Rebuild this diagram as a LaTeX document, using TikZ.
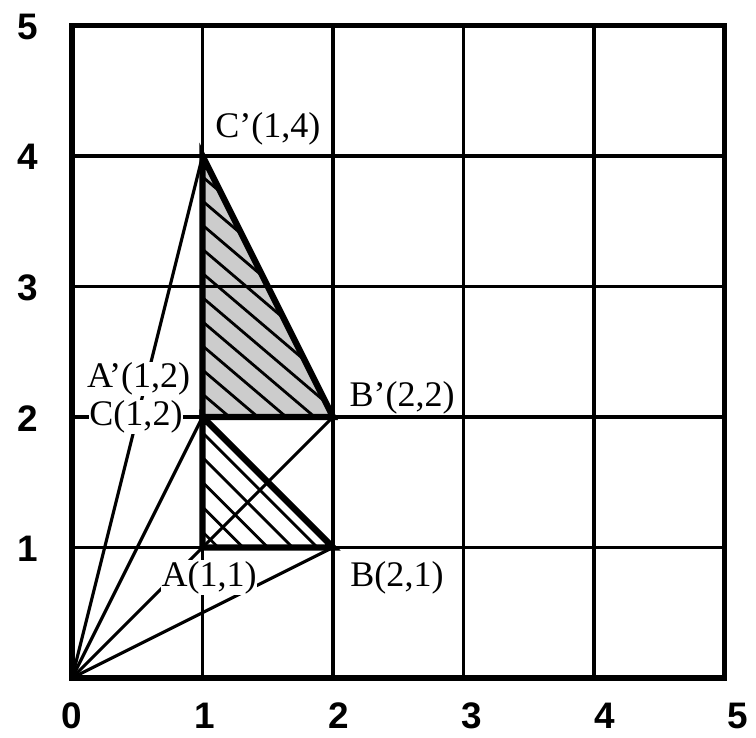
\documentclass[tikz,border=0pt]{standalone}
\usepackage{fontspec}
\setmainfont{Liberation Serif}
\setsansfont{Liberation Sans}
\usetikzlibrary{positioning,calc}
\definecolor{hatchgray}{RGB}{204,204,204}

\begin{document}
\begin{tikzpicture}[
		x=2.61cm,
		y=2.61cm,
		gridline/.style={line width=2pt},
		frame/.style={line width=3pt},
		ray/.style={line width=1.8pt},
		edge/.style={line width=3.6pt, line join=miter},
		hatch/.style={line width=1.6pt},
		tag/.style={font=\fontsize{20.5}{24}\selectfont, fill=white, inner sep=0.5pt},
		tick/.style={font=\sffamily\bfseries\fontsize{21}{24}\selectfont, inner sep=0pt}
	]
	
	% Canvas
	\useasboundingbox (-0.552,-0.460) rectangle (5.241,5.195);
	
	% Points
	\coordinate (O) at (0,0);
	\coordinate (A) at (1,1);
	\coordinate (B) at (2,1);
	\coordinate (C) at (1,2);
	\coordinate (Ap) at (1,2);
	\coordinate (Bp) at (2,2);
	\coordinate (Cp) at (1,4);
	
	% Image triangle
	\fill[hatchgray] (Ap) -- (Bp) -- (Cp) -- cycle;
	\begin{scope}
		\clip (Ap) -- (Bp) -- (Cp) -- cycle;
		\foreach \k in {0,...,9}{
			\draw[hatch] (0.9,{3.925-0.185*\k}) -- ++(1.4,-1.19);
		}
	\end{scope}
	
	% Original triangle
	\begin{scope}
		\clip (A) -- (B) -- (C) -- cycle;
		\foreach \k in {0,...,4}{
			\draw[hatch] (0.9,{1.98-0.19*\k}) -- ++(1.3,-1.3);
		}
	\end{scope}
	
	% Grid
	\foreach \i in {1,...,4}{
		\draw[gridline] (\i,0) -- (\i,5);
		\draw[gridline] (0,\i) -- (5,\i);
	}
	\draw[frame] (0,0) rectangle (5,5);
	
	% Edges
	\draw[edge] (Ap) -- (Bp) -- (Cp) -- cycle;
	\draw[edge] (A) -- (B) -- (C) -- cycle;
	
	% Rays from the origin
	\draw[ray] (O) -- (Cp);
	\draw[ray] (O) -- (C);
	\draw[ray] (O) -- (Bp);
	\draw[ray] (O) -- (B);
	
	% Point labels
	\node[tag] (labCp) at (1.50,4.21) {C'(1,4)};
	\node[tag] (labAp) at (0.51,2.29) {A'(1,2)};
	\node[tag] (labC) at (0.49,2.00) {C(1,2)};
	\node[tag] (labBp) at (2.53,2.15) {B'(2,2)};
	\node[tag] (labA) at (1.05,0.77) {A(1,1)};
	\node[tag] (labB) at (2.49,0.77) {B(2,1)};
	
	% Axis numbers
	\foreach \i in {0,...,5}{
		\node[tick] (x\i) at ({1.02*\i},-0.29) {\i};
	}
	\foreach \i in {1,...,5}{
		\node[tick] (y\i) at (-0.34,{\i-0.01}) {\i};
	}
	
\end{tikzpicture}
\end{document}
